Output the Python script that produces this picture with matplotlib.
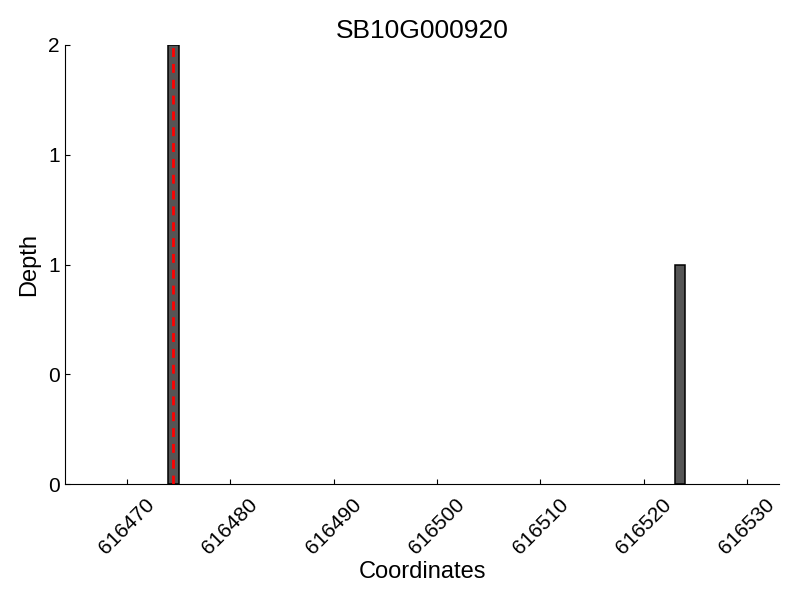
import matplotlib
matplotlib.use('Agg')
import matplotlib.pyplot as plt
from matplotlib.ticker import FormatStrFormatter

plt.rcParams['font.family'] = ['Liberation Sans', 'DejaVu Sans']

title = 'SB10G000920'
positions = [616474, 616523]
depth = [2, 1]
marker_pos = 616474.5
xlim = (616464.0, 616533.1)
xticks = [616470, 616480, 616490, 616500, 616510, 616520, 616530]
yticks = [0, 0.5, 1, 1.5, 2]

fig = plt.figure(figsize=(8, 6), dpi=100)
ax = fig.add_axes([0.081, 0.193, 0.893, 0.732])

ax.bar(positions, depth, width=1, align='edge', color='#555555', edgecolor='black', lw=1.1)
ax.vlines(marker_pos, 0, max(depth), colors='red', linestyles=(0, (3.2, 2.5)), lw=2)

ax.set_xlim(*xlim)
ax.set_ylim(0, 2)
ax.set_xticks(xticks)
ax.set_yticks(yticks)
ax.yaxis.set_major_formatter(FormatStrFormatter('%d'))
ax.xaxis.set_major_formatter(FormatStrFormatter('%d'))

ax.spines['top'].set_visible(False)
ax.spines['right'].set_visible(False)
ax.tick_params(direction='in', labelsize=15, top=False, right=False)
ax.tick_params(axis='x', pad=8)
plt.setp(ax.get_xticklabels(), rotation=45)

ax.set_title(title, fontsize=19, pad=5)
ax.set_xlabel('Coordinates', fontsize=17, labelpad=2)
ax.set_ylabel('Depth', fontsize=17, labelpad=6)

fig.savefig('out.png')
